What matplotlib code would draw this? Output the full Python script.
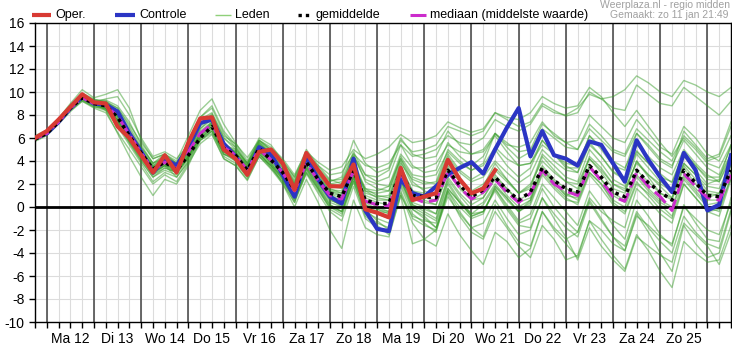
import numpy as np
import matplotlib
matplotlib.use("Agg")
import matplotlib.pyplot as plt

plt.rcParams['font.family'] = ['Liberation Sans', 'DejaVu Sans']
plt.rcParams['axes.unicode_minus'] = False

# 6-hourly steps, day 0 = Ma 12 00:00; first step Zo 11 18:00
STEP = 0.25
START = -0.25

day_labels = ["Ma 12", "Di 13", "Wo 14", "Do 15", "Vr 16", "Za 17", "Zo 18",
              "Ma 19", "Di 20", "Wo 21", "Do 22", "Vr 23", "Za 24", "Zo 25"]
y_ticks = list(range(-10, 17, 2))

oper = [6.0, 6.6, 7.6, 8.7, 9.8, 9.1, 9.0, 7.0, 6.0, 4.5, 3.0, 4.5, 3.0, 5.6, 7.7,
        7.8, 5.0, 4.2, 2.8, 4.8, 5.0, 3.8, 1.5, 4.7, 3.2, 1.8, 1.8, 3.7, -0.2, -0.5,
        -0.9, 3.4, 0.6, 0.9, 1.2, 4.1, 2.4, 1.2, 1.6, 3.2]

controle = [6.0, 6.4, 7.4, 8.6, 9.6, 9.0, 8.9, 8.3, 6.4, 4.8, 3.0, 4.2, 3.6, 5.2, 7.3,
            7.6, 5.5, 4.4, 3.0, 5.2, 4.6, 2.8, 0.9, 4.4, 2.4, 0.9, 0.3, 4.2, -0.3, -1.9,
            -2.1, 2.4, 1.2, 0.9, 1.8, 2.8, 3.4, 3.9, 2.9, 5.0, 6.9, 8.6, 4.4, 6.6, 4.5,
            4.2, 3.6, 5.7, 5.4, 3.8, 2.2, 5.8, 4.1, 2.6, 1.3, 4.7, 3.2, -0.3, 0.2, 4.5]

gemiddelde = [5.9, 6.4, 7.4, 8.6, 9.5, 9.0, 8.8, 7.8, 6.2, 4.7, 3.3, 3.9, 3.2, 4.5, 6.0,
              7.0, 5.1, 4.5, 3.2, 5.1, 4.1, 3.0, 1.5, 3.9, 2.4, 1.2, 0.9, 3.2, 0.6, 0.3,
              0.3, 3.2, 1.0, 0.9, 0.8, 3.2, 1.9, 0.9, 1.5, 2.6, 1.5, 0.6, 1.3, 3.4, 2.3,
              1.6, 1.3, 3.6, 2.6, 1.3, 0.9, 3.2, 2.1, 1.3, 0.6, 3.2, 2.1, 1.0, 0.9, 3.2]

mediaan = [5.9, 6.4, 7.4, 8.6, 9.5, 9.0, 8.8, 7.9, 6.3, 4.7, 3.2, 3.9, 3.3, 4.8, 6.4,
           7.2, 5.2, 4.5, 3.2, 5.0, 4.1, 3.0, 1.4, 3.8, 2.3, 1.0, 0.7, 3.1, 0.5, 0.2,
           0.1, 3.0, 0.8, 0.4, 0.6, 3.1, 1.7, 0.7, 1.3, 2.4, 1.3, 0.4, 1.2, 3.2, 2.0,
           1.4, 1.0, 3.5, 2.3, 0.9, 0.5, 3.0, 1.8, 0.9, -0.3, 2.9, 1.8, 0.8, 0.6, 2.8]

leden = [
    [6.1, 6.6, 7.6, 8.8, 9.8, 9.3, 9.2, 8.4, 6.8, 5.0, 3.6, 4.4, 3.6, 5.0, 7.0, 7.9, 5.6, 4.8, 3.4, 5.5,
     4.6, 3.4, 1.9, 4.3, 2.8, 1.5, 1.4, 3.8, 1.2, 0.9, 1.0, 4.0, 1.9, 1.6, 1.8, 4.4, 3.0, 2.2, 2.6, 4.0,
     3.0, 2.1, 2.8, 5.0, 4.0, 3.2, 3.0, 5.4, 4.4, 3.1, 2.5, 4.9, 3.8, 2.9, 2.1, 4.6, 3.6, 2.4, 2.2, 4.6],
    [5.7, 6.2, 7.2, 8.3, 9.2, 8.6, 8.2, 6.5, 5.0, 3.5, 2.0, 2.8, 2.2, 3.8, 5.5, 6.3, 4.2, 3.6, 2.3, 4.4,
     3.3, 2.0, 0.4, 2.9, 1.2, -0.4, -1.2, 1.8, -1.0, -1.8, -2.2, 1.4, -1.0, -1.6, -2.0, 0.9, -0.6, -1.8, -1.4, 0.6,
     -1.0, -2.4, -2.0, 0.8, -0.6, -1.8, -2.6, 0.4, -1.2, -2.6, -3.4, -0.4, -1.8, -3.0, -4.0, -0.8, -2.2, -3.2, -3.6, -0.2],
    [6.0, 6.5, 7.5, 8.7, 9.6, 9.1, 9.4, 9.6, 8.0, 6.0, 4.4, 4.8, 4.2, 5.4, 7.6, 8.2, 6.2, 5.5, 4.3, 5.8,
     5.2, 4.2, 2.8, 4.8, 3.9, 3.2, 3.5, 5.0, 4.2, 4.6, 5.2, 6.3, 5.6, 5.8, 6.2, 7.4, 6.9, 6.5, 6.8, 8.2,
     7.6, 7.0, 7.4, 9.0, 8.4, 7.9, 8.2, 10.0, 9.4, 8.6, 8.4, 10.6, 9.8, 9.0, 8.8, 10.4, 9.6, 8.8, 8.0, 9.2],
    [5.8, 6.3, 7.3, 8.5, 9.4, 8.9, 8.6, 7.2, 5.6, 4.0, 2.6, 3.4, 3.0, 4.3, 6.3, 7.3, 5.0, 4.2, 2.9, 4.9,
     3.8, 2.6, 1.0, 3.5, 2.0, 0.6, 0.2, 2.6, 0.2, -0.4, -0.5, 2.6, 0.4, 0.0, -0.6, 2.4, 1.0, -0.2, 0.4, 2.0,
     0.8, -0.4, 0.4, 3.0, 1.8, 0.8, 0.2, 2.8, 1.6, 0.2, -0.6, 2.0, 1.2, 0.2, -0.8, 2.4, 1.2, 0.0, -0.4, 2.6],
    [6.2, 6.7, 7.7, 8.9, 9.9, 9.4, 9.0, 7.9, 6.4, 4.9, 3.4, 3.9, 3.4, 4.9, 7.2, 8.1, 6.0, 5.0, 3.8, 5.7,
     4.9, 3.8, 2.4, 4.6, 3.4, 2.3, 2.4, 4.8, 2.8, 2.2, 2.6, 5.4, 3.6, 3.0, 3.2, 5.6, 4.4, 3.6, 4.4, 6.4,
     5.2, 4.2, 4.8, 6.8, 6.0, 5.2, 5.0, 7.2, 6.2, 5.0, 4.6, 6.8, 5.8, 4.8, 4.0, 6.2, 5.2, 4.0, 4.4, 7.0],
    [5.9, 6.4, 7.4, 8.6, 9.4, 8.9, 8.6, 7.6, 5.8, 4.2, 2.8, 3.6, 2.6, 3.9, 5.8, 6.6, 4.4, 3.8, 2.6, 4.6,
     3.6, 2.4, 0.6, 3.0, 1.6, 0.0, -0.6, 2.4, -0.4, -1.0, -1.4, 2.0, -0.2, -0.8, -1.8, 1.6, 0.4, -0.8, -0.4, 1.6,
     0.2, -1.2, -0.6, 2.0, 0.8, -0.4, -1.6, 1.4, 0.0, -1.6, -2.8, 0.6, -0.8, -2.4, -3.4, 0.2, -1.4, -2.8, -3.0, 0.8],
    [5.8, 6.3, 7.3, 8.4, 9.3, 8.7, 8.4, 7.0, 5.4, 3.8, 2.2, 3.0, 2.6, 4.0, 6.0, 6.8, 4.6, 4.0, 2.6, 4.8,
     3.4, 2.2, 0.8, 3.3, 1.6, -0.2, -0.8, 2.2, -0.6, -1.4, -1.8, 1.8, -0.6, -1.4, -2.2, 1.4, -0.4, -1.8, -2.6, 0.2,
     -1.6, -3.0, -3.4, -0.4, -2.0, -3.2, -4.4, -1.2, -2.8, -4.2, -5.4, -2.4, -3.8, -5.6, -7.0, -3.0, -4.0, -4.8, -4.6, -1.6],
    [5.9, 6.4, 7.3, 8.5, 9.5, 9.0, 8.5, 7.4, 5.9, 4.4, 3.0, 3.8, 3.2, 4.4, 6.4, 7.0, 4.8, 4.4, 3.0, 4.8,
     4.0, 2.8, 1.2, 3.6, 2.2, 0.8, 0.0, 2.6, -0.2, -1.2, -2.0, 1.2, -1.4, -2.8, -3.4, -0.6, -2.4, -3.8, -5.0, -2.2,
     -3.0, -4.4, -3.6, -0.4, -1.8, -2.8, -2.2, 0.8, -0.4, -1.2, -1.8, 1.6, 0.6, -0.6, -1.4, 2.0, 0.8, -0.4, -0.8, 2.4],
    [6.0, 6.5, 7.5, 8.7, 9.7, 9.2, 9.1, 8.2, 6.6, 5.0, 3.5, 4.1, 3.5, 5.0, 6.8, 7.6, 5.6, 4.6, 3.2, 5.2,
     4.4, 3.0, 1.4, 4.2, 2.6, 1.2, 1.0, 3.6, 1.6, 1.4, 1.8, 4.6, 3.4, 3.4, 3.8, 5.4, 4.8, 4.6, 5.0, 6.4,
     5.4, 5.2, 5.6, 7.4, 6.2, 5.6, 5.0, 6.8, 5.8, 4.8, 4.4, 6.4, 5.4, 4.2, 3.6, 5.8, 4.6, 3.4, 2.8, 5.2],
    [5.9, 6.4, 7.4, 8.6, 9.6, 9.0, 8.4, 6.4, 4.4, 2.6, 1.0, 2.4, 2.0, 3.6, 5.8, 6.4, 4.2, 3.6, 2.4, 4.4,
     3.4, 2.2, 0.4, 3.4, 1.8, 0.2, -0.4, 2.8, 0.6, 0.0, -0.4, 2.8, 0.8, 0.4, 0.2, 3.0, 1.6, 0.6, 1.2, 2.8,
     1.6, 0.6, 1.2, 3.6, 2.4, 1.6, 1.2, 3.6, 2.4, 1.0, 0.4, 2.8, 1.6, 0.6, 0.0, 2.8, 1.6, 0.6, 0.6, 3.2],
    [6.1, 6.6, 7.7, 9.0, 10.2, 9.5, 9.8, 10.2, 8.6, 5.8, 4.2, 4.6, 3.8, 5.4, 7.8, 8.6, 6.4, 5.2, 3.6, 5.6,
     4.8, 3.6, 2.0, 4.4, 3.0, 1.8, 1.6, 4.0, 1.6, 1.0, 0.8, 3.6, 1.4, 0.8, 0.6, 3.4, 2.2, 1.0, 1.6, 3.4,
     2.4, 1.2, 1.6, 4.4, 3.2, 2.2, 1.6, 4.4, 3.4, 2.0, 1.4, 4.0, 2.8, 1.8, 0.8, 3.8, 2.8, 1.4, 1.2, 3.8],
    [6.0, 6.5, 7.5, 8.6, 9.5, 9.0, 8.9, 8.0, 6.3, 4.8, 3.4, 4.0, 3.6, 5.0, 6.6, 7.4, 5.4, 4.8, 3.6, 5.4,
     4.6, 3.6, 2.2, 4.4, 3.0, 2.0, 2.2, 4.4, 2.8, 2.6, 3.2, 5.8, 4.8, 5.0, 5.4, 7.0, 6.6, 6.2, 6.6, 8.2,
     7.8, 7.6, 8.2, 9.6, 9.0, 8.6, 8.8, 10.4, 9.6, 8.2, 7.0, 8.4, 7.0, 5.6, 4.4, 6.0, 5.0, 3.8, 3.4, 5.4],
    [5.8, 6.3, 7.3, 8.4, 9.2, 8.7, 8.6, 7.4, 5.8, 4.4, 3.0, 3.6, 3.0, 4.2, 5.8, 6.6, 4.6, 4.2, 2.8, 4.4,
     3.6, 2.0, 0.0, 2.4, 0.4, -2.0, -3.6, 0.6, -1.8, -2.4, -2.6, 1.0, -0.8, -1.2, -1.4, 1.6, 0.4, -0.6, 0.2, 1.8,
     0.6, -0.4, 0.2, 2.8, 1.6, 0.6, 0.4, 3.0, 2.0, 0.6, 0.0, 2.6, 1.4, 0.4, -0.2, 2.6, 1.4, 0.2, 0.4, 3.0],
    [6.0, 6.6, 7.6, 8.8, 9.8, 9.2, 9.2, 8.6, 7.0, 5.2, 3.8, 4.6, 4.0, 6.2, 8.4, 9.4, 7.2, 5.6, 4.0, 6.0,
     5.4, 4.0, 2.6, 5.0, 3.6, 2.4, 2.0, 4.6, 2.2, 1.6, 1.4, 4.2, 2.2, 1.4, 1.0, 4.0, 2.6, 1.2, 1.8, 3.8,
     2.4, 1.2, 1.8, 4.6, 3.6, 2.6, 2.2, 5.0, 3.8, 2.4, 1.8, 4.6, 3.4, 2.2, 1.6, 4.4, 3.2, 2.0, 2.4, 5.4],
    [5.9, 6.4, 7.4, 8.6, 9.5, 9.0, 8.7, 7.6, 6.0, 4.6, 3.2, 3.8, 3.0, 4.4, 6.0, 7.0, 5.0, 4.4, 3.0, 5.0,
     4.0, 2.8, 1.2, 3.8, 2.2, 1.0, 0.6, 3.0, 0.2, -0.2, -0.4, 2.6, 0.2, -0.4, -1.0, 2.2, 0.6, -0.6, -0.4, 1.4,
     -0.2, -1.6, -1.8, 0.8, -1.0, -2.6, -4.6, -1.8, -3.4, -4.6, -5.6, -2.6, -3.4, -4.2, -4.8, -1.4, -2.4, -3.4, -5.0, -2.2],
    [6.1, 6.6, 7.6, 8.8, 9.7, 9.1, 9.0, 8.1, 6.5, 5.2, 3.8, 4.2, 3.6, 4.8, 6.4, 7.2, 5.4, 5.0, 3.8, 5.4,
     4.8, 4.0, 2.6, 4.6, 3.6, 2.8, 3.0, 4.6, 3.6, 3.4, 3.8, 5.4, 4.4, 4.6, 5.0, 6.2, 5.6, 5.4, 6.0, 7.6,
     7.0, 6.6, 7.2, 8.8, 8.2, 8.0, 8.6, 9.8, 9.4, 9.6, 10.2, 11.4, 10.8, 10.0, 9.6, 11.0, 10.6, 10.0, 9.6, 10.4],
    [5.8, 6.3, 7.3, 8.5, 9.4, 8.8, 8.6, 7.6, 6.0, 4.6, 3.0, 3.6, 3.0, 4.4, 6.2, 7.0, 5.0, 4.2, 2.8, 4.8,
     3.8, 2.4, 0.8, 3.2, 1.6, 0.2, -0.4, 2.2, -0.8, -1.6, -2.4, 1.0, -3.2, -2.8, -2.0, 1.4, 0.0, -1.0, -0.6, 1.8,
     0.8, -0.4, 0.6, 3.2, 2.0, 1.0, 0.8, 3.4, 2.4, 1.2, 0.6, 3.2, 2.2, 1.2, 0.8, 3.6, 2.4, 1.2, 1.0, 3.6],
    [6.0, 6.5, 7.4, 8.6, 9.5, 9.0, 8.8, 7.8, 6.2, 4.8, 3.4, 4.0, 3.3, 4.6, 6.2, 7.2, 5.2, 4.6, 3.4, 5.2,
     4.2, 3.2, 1.8, 4.0, 2.6, 1.4, 1.2, 3.4, 1.0, 0.6, 0.6, 3.4, 1.4, 1.2, 1.2, 3.6, 2.4, 1.4, 2.0, 3.2,
     2.2, 1.2, 2.0, 4.0, 3.0, 2.2, 2.0, 4.2, 3.2, 2.0, 1.6, 3.8, 2.8, 2.0, 1.4, 3.8, 2.8, 1.8, 1.6, 3.8],
    [5.9, 6.4, 7.4, 8.6, 9.5, 9.0, 8.7, 7.6, 6.0, 4.5, 3.1, 3.7, 3.2, 4.5, 6.0, 6.8, 4.8, 4.3, 3.0, 5.0,
     3.8, 2.6, 1.0, 3.6, 2.0, 0.6, 0.2, 2.6, 0.0, -0.6, -1.0, 2.4, 0.0, -0.6, -1.2, 2.0, 0.4, -0.8, -0.4, 1.6,
     0.0, -1.4, -1.0, 1.6, 0.0, -1.2, -2.2, 0.6, -1.0, -2.6, -3.8, -0.6, -2.2, -4.0, -5.6, -1.6, -3.2, -4.4, -4.0, -0.4],
    [6.1, 6.6, 7.5, 8.7, 9.6, 9.1, 9.0, 8.0, 6.4, 4.9, 3.6, 4.2, 3.4, 4.8, 6.4, 7.4, 5.4, 4.8, 3.6, 5.6,
     4.6, 3.4, 2.0, 4.6, 3.2, 2.2, 2.6, 5.8, 3.8, 3.0, 3.4, 6.0, 4.6, 4.2, 4.4, 6.6, 5.4, 4.6, 4.8, 6.2,
     4.8, 3.6, 3.8, 5.8, 4.6, 3.6, 3.0, 5.6, 4.4, 3.0, 2.4, 4.8, 3.8, 2.6, 2.2, 4.8, 3.6, 2.6, 2.6, 4.6],
    [5.9, 6.5, 7.5, 8.6, 9.6, 9.1, 8.9, 7.8, 6.1, 4.4, 3.0, 3.6, 3.4, 4.7, 6.8, 7.8, 5.6, 4.6, 3.3, 5.3,
     4.3, 3.1, 1.6, 4.1, 2.5, 1.1, 0.8, 3.3, 0.8, 0.4, 0.2, 3.0, 1.2, 0.6, 0.2, 3.0, 1.8, 0.6, 0.8, 2.6,
     1.6, 0.4, 0.8, 3.2, 2.2, 1.2, 0.6, 3.0, 2.0, 0.4, -0.4, 2.2, 1.0, -0.2, -1.0, 2.0, 0.8, -0.4, -0.2, 2.6],
    [6.0, 6.5, 7.5, 8.7, 9.7, 9.2, 9.1, 8.6, 7.2, 5.6, 4.2, 4.6, 3.8, 5.2, 7.2, 8.0, 6.0, 5.2, 3.8, 5.8,
     5.0, 3.8, 2.2, 4.8, 3.2, 2.0, 1.8, 4.4, 2.4, 2.0, 1.8, 4.2, 2.6, 2.2, 2.0, 4.6, 3.2, 2.4, 3.0, 5.0,
     3.6, 2.6, 3.4, 5.8, 4.6, 3.4, 3.4, 6.2, 5.0, 3.6, 3.2, 6.4, 5.2, 4.0, 3.4, 6.6, 5.4, 4.2, 4.6, 7.4],
    [5.8, 6.3, 7.3, 8.5, 9.3, 8.8, 8.5, 7.2, 5.6, 4.0, 2.6, 3.2, 2.8, 4.2, 6.2, 7.0, 4.8, 4.0, 2.8, 4.6,
     3.6, 2.4, 0.6, 3.0, 1.4, 0.0, -0.4, 2.4, 0.0, -0.6, -0.8, 2.2, 0.2, -0.2, -0.6, 2.6, 1.2, 0.2, 0.8, 2.4,
     1.0, 0.0, 0.6, 3.4, 2.2, 1.0, 1.4, 4.2, 3.0, 1.6, 1.2, 4.0, 2.6, 1.2, 0.6, 3.4, 2.0, 0.8, 1.2, 3.8],
    [6.0, 6.5, 7.4, 8.5, 9.4, 8.9, 8.8, 7.9, 6.3, 4.9, 3.5, 4.0, 3.4, 4.6, 6.3, 7.3, 5.3, 4.7, 3.5, 5.4,
     4.4, 3.2, 1.6, 4.0, 2.6, 1.4, 1.0, 3.6, 1.4, 1.2, 1.4, 4.4, 2.8, 2.6, 2.8, 4.8, 3.8, 3.2, 3.6, 5.2,
     4.2, 3.6, 3.8, 5.4, 4.6, 3.8, 3.6, 6.2, 5.2, 4.0, 3.4, 5.4, 4.4, 3.4, 2.8, 5.0, 3.8, 2.8, 2.2, 4.2],
    [5.9, 6.4, 7.4, 8.6, 9.4, 8.9, 8.7, 7.4, 5.7, 4.2, 2.8, 3.4, 3.0, 4.4, 6.0, 6.6, 4.6, 4.2, 3.0, 4.6,
     3.6, 2.6, 1.0, 3.4, 1.8, 0.4, 0.0, 2.8, 0.4, -0.2, -0.6, 2.4, -0.2, -1.0, -1.8, 1.2, -0.8, -2.2, -2.8, -0.4,
     -1.8, -3.4, -4.4, -1.6, -2.8, -4.6, -4.2, -1.2, -2.0, -3.2, -3.8, -0.8, -1.6, -2.6, -3.2, 0.0, -1.0, -2.0, -2.4, 0.4],
    [6.1, 6.6, 7.6, 8.8, 9.8, 9.3, 9.3, 8.8, 7.4, 5.4, 3.8, 4.4, 3.8, 5.6, 7.8, 8.8, 6.6, 5.4, 3.8, 5.8,
     5.0, 3.6, 2.0, 4.2, 2.8, 1.6, 1.2, 3.8, 1.4, 0.8, 0.6, 3.8, 2.4, 2.0, 2.2, 5.0, 4.0, 3.2, 3.8, 6.4,
     5.6, 4.8, 5.0, 7.2, 6.4, 5.6, 5.8, 8.0, 7.0, 6.0, 5.6, 7.6, 6.4, 5.2, 4.6, 7.0, 6.0, 4.6, 4.0, 6.2],
]

C_OPER = '#d83a33'
C_CTRL = '#2b35c4'
C_LID = '#3a9e2c'
C_MED = '#cc2ccc'
DOT = (0, (1, 1.2))
DASH = (0, (5, 2))


def steps(series):
    return START + STEP * np.arange(len(series))


W, H = 732, 345
fig = plt.figure(figsize=(W / 100, H / 100), dpi=100)
ax = fig.add_axes([35 / W, 23 / H, 696 / W, 299 / H])

n_days = len(day_labels)
x_min, x_max = START, n_days + 0.5

# grid: 6-hourly light lines, midnight separators, 2-degree rows
for t in np.arange(START, x_max + 1e-9, STEP):
    ax.axvline(t, color='#dcdcdc', lw=0.8, zorder=0)
for v in y_ticks:
    ax.axhline(v, color='#dcdcdc', lw=0.8, zorder=0)
for d in range(n_days + 1):
    ax.axvline(d, color='#505050', lw=1.2, zorder=1)

for m in leden:
    ax.plot(steps(m), m, color=C_LID, lw=1.0, alpha=0.5, zorder=2)

ax.axhline(0, color='black', lw=2.0, zorder=3)

ax.plot(steps(controle), controle, color=C_CTRL, lw=3.0, zorder=4)
ax.plot(steps(mediaan), mediaan, color=C_MED, lw=2.2, ls=DASH, zorder=5)
ax.plot(steps(gemiddelde), gemiddelde, color='black', lw=2.5, ls=DOT, zorder=6)
ax.plot(steps(oper), oper, color=C_OPER, lw=3.0, zorder=7)

ax.set_xlim(x_min, x_max)
ax.set_ylim(-10, 16)
ax.set_yticks(y_ticks)
ax.set_xticks(np.arange(n_days) + 0.5)
ax.set_xticklabels(day_labels)
ax.set_xticks(np.arange(START, x_max + 1e-9, STEP), minor=True)
ax.tick_params(axis='both', which='both', direction='out', length=4, width=1,
               colors='black', labelsize=10)
for s in ax.spines.values():
    s.set_color('black')
    s.set_linewidth(1.0)

# header row in pixel coordinates
hdr = fig.add_axes([0, 0, 1, 1], zorder=10)
hdr.set_xlim(0, W)
hdr.set_ylim(H, 0)
hdr.axis('off')
hdr.patch.set_alpha(0)

legend_items = [
    ("Oper.", 32, 51, dict(color=C_OPER, lw=3)),
    ("Controle", 115, 135, dict(color=C_CTRL, lw=3)),
    ("Leden", 215, 231, dict(color='#8fd07a', lw=1)),
    ("gemiddelde", 298, 311, dict(color='black', lw=2.4, ls=DOT)),
    ("mediaan (middelste waarde)", 410, 426, dict(color=C_MED, lw=2.2, ls=(0, (6, 2, 1.5, 2)))),
]
y_leg = 15
for label, x0, x1, style in legend_items:
    hdr.plot([x0, x1], [y_leg, y_leg], solid_capstyle='butt', **style)
    hdr.text(x1 + 4, y_leg, label, ha='left', va='center', fontsize=9)

hdr.text(730, 5, "Weerplaza.nl - regio midden", ha='right', va='center',
         fontsize=7.5, color='#a0a0a0')
hdr.text(728, 15.5, "Gemaakt: zo 11 jan 21:49", ha='right', va='center',
         fontsize=7.5, color='#a0a0a0')

fig.savefig("out.png", dpi=100)
